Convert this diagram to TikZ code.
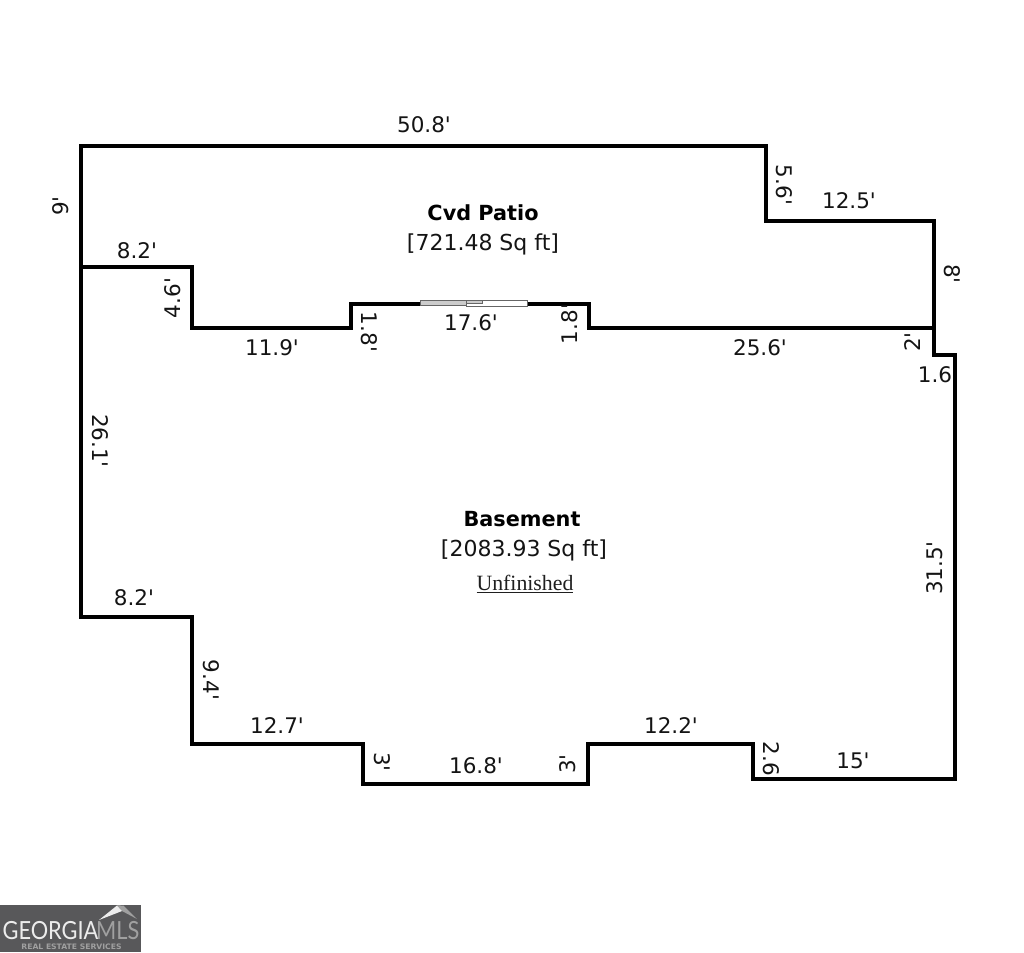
\documentclass[tikz,border=0pt]{standalone}
\usepackage{fontspec}
\newfontfamily\labelface{DejaVu Sans}
\newfontfamily\serifface{Liberation Serif}
\newfontfamily\logoface{Lato}
\definecolor{logobg}{HTML}{58585A}
\definecolor{logogray}{HTML}{A0A0A0}
\definecolor{logotext}{HTML}{ECECEC}
\tikzset{
  wall/.style={line width=4pt,line join=miter,black},
  dim/.style={font=\labelface\fontsize{21.5}{23}\selectfont,text=black!92,inner sep=0pt,anchor=center},
  dimd/.style={dim,rotate=-90},
  dimu/.style={dim,rotate=90},
  roomname/.style={font=\labelface\fontsize{20.8}{23}\selectfont\bfseries,inner sep=0pt},
  roomarea/.style={font=\labelface\fontsize{22}{24}\selectfont,text=black!92,inner sep=0pt},
  doorpanel/.style={draw=black!60,line width=1pt,fill=white},
}
\begin{document}
\begin{tikzpicture}[x=1pt,y=-1pt]
\useasboundingbox (0,0) rectangle (1024,952);
% walls
\draw[wall] (81,146) -- (766,146) -- (766,221) -- (934,221) -- (934,328) -- (589,328) -- (589,304) -- (351,304) -- (351,328) -- (192,328) -- (192,267) -- (81,267) -- cycle;
\draw[wall] (81,267) -- (81,617) -- (192,617) -- (192,744) -- (363,744) -- (363,784) -- (588,784) -- (588,744) -- (753,744) -- (753,778.5) -- (955,778.5) -- (955,355) -- (934,355) -- (934,328);
% sliding door
\draw[doorpanel,fill=black!20] (420.5,300) rectangle (482,305.5);
\draw[doorpanel] (466,300) rectangle (527,306);
\draw[doorpanel,fill=black!20] (466,300) rectangle (482,303);
% rooms
\node[roomname] (patio) at (483,213) {Cvd Patio};
\node[roomarea] (patioarea) at (483,244) {[721.48 Sq ft]};
\node[roomname] (basement) at (522,519) {Basement};
\node[roomarea] (basearea) at (524,550) {[2083.93 Sq ft]};
\node[inner sep=0pt,font=\serifface\fontsize{21.8}{24}\selectfont,text=black!88] (unf) at (525,584) {\underline{Unfinished}};
% dimensions
\node[dim] (d1) at (424,125) {50.8'};
\node[dimd] (d2) at (784,185) {5.6'};
\node[dim] (d3) at (849,201) {12.5'};
\node[dimd] (d4) at (952,274) {8'};
\node[dimu] (d5) at (61,206) {9'};
\node[dim] (d6) at (137,251) {8.2'};
\node[dimu] (d7) at (173,298) {4.6'};
\node[dim] (d8) at (272,348) {11.9'};
\node[dimd] (d9) at (369,332) {1.8'};
\node[dim] (d10) at (471,323) {17.6'};
\node[dimu] (d11) at (570,324) {1.8'};
\node[dim] (d12) at (760,348) {25.6'};
\node[dimu] (d13) at (913,342) {2'};
\node[dim] (d14) at (935,375) {1.6};
\node[dimd] (d15) at (100,441) {26.1'};
\node[dimu] (d16) at (935,568) {31.5'};
\node[dim] (d17) at (134,598) {8.2'};
\node[dimd] (d18) at (211,680) {9.4'};
\node[dim] (d19) at (277,726) {12.7'};
\node[dimd] (d20) at (382,762) {3'};
\node[dim] (d21) at (476,766) {16.8'};
\node[dimu] (d22) at (568,764) {3'};
\node[dim] (d23) at (671,726) {12.2'};
\node[dimd] (d24) at (771,759) {2.6};
\node[dim] (d25) at (853,761) {15'};
% logo
\fill[logobg] (0,905) rectangle (141,952);
\fill[logotext] (99,920) -- (117,905.5) -- (124,906) -- (122,911) -- cycle;
\fill[logogray] (117,905.5) -- (124,906) -- (137,919) -- (122,911) -- cycle;
\node[inner sep=0pt,anchor=west,font=\logoface\fontsize{25}{25}\selectfont,text=logotext,xscale=0.87] (logo1) at (2.5,931) {GEORGIA};
\node[inner sep=0pt,anchor=west,font=\logoface\fontsize{25}{25}\selectfont,text=logogray,xscale=0.87] (logo2) at (96,931) {MLS};
\node[inner sep=0pt,font=\labelface\fontsize{7.5}{8}\selectfont\bfseries,text=logogray,xscale=1.02] (logo3) at (71.5,947) {REAL ESTATE SERVICES};
\end{tikzpicture}
\end{document}
